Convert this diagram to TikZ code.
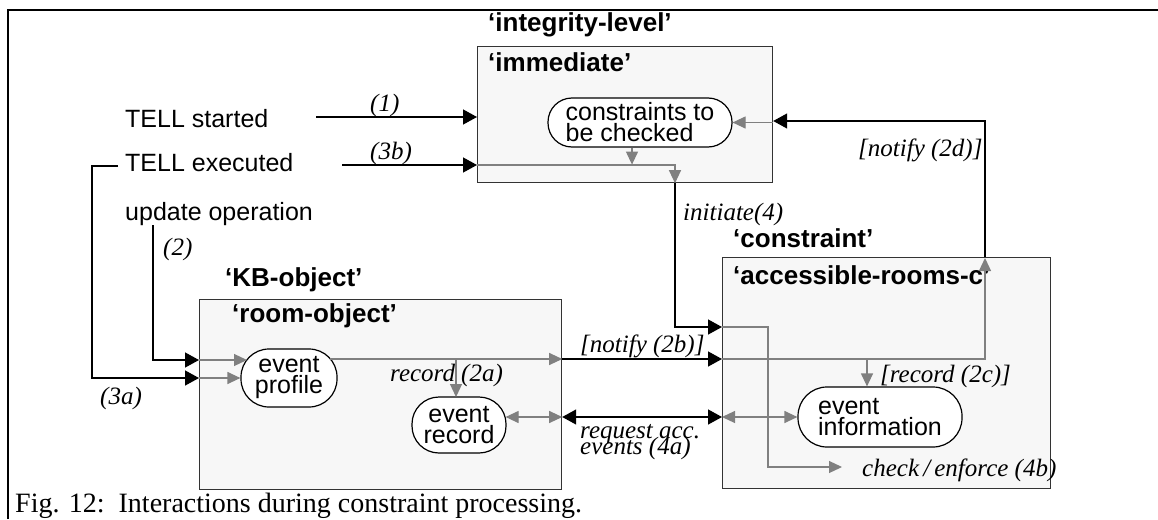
\documentclass[tikz,border=0pt]{standalone}
\usepackage{fontspec}
\setmainfont{Liberation Serif}
\setsansfont{Liberation Sans}
\usetikzlibrary{arrows.meta,calc}
\definecolor{boxfill}{HTML}{F7F7F7}
\definecolor{arrgray}{HTML}{808080}
\begin{document}
\begin{tikzpicture}[x=1pt,y=-1pt,
  lab/.style={font=\sffamily\fontsize{25}{25}\selectfont, inner sep=0, anchor=base west},
  blab/.style={font=\sffamily\bfseries\fontsize{26}{26}\selectfont, inner sep=0, anchor=base west},
  ilab/.style={font=\itshape\fontsize{25}{25}\selectfont, inner sep=0, anchor=base west},
  cbox/.style={draw=black!80, fill=boxfill, line width=1.2pt, inner sep=0, anchor=north west},
  st/.style={draw=black, fill=white, line width=1.2pt, inner sep=0, align=center, font=\sffamily\fontsize{25}{21}\selectfont},
  blk/.style={line width=1.4pt, draw=black, -{Triangle[length=14pt,width=15pt]}},
  blktwo/.style={line width=1.4pt, draw=black, {Triangle[length=14pt,width=15pt]}-{Triangle[length=14pt,width=15pt]}},
  gry/.style={line width=1.2pt, draw=arrgray, -{Triangle[length=13pt,width=12pt]}},
  grytwo/.style={line width=1.2pt, draw=arrgray, {Triangle[length=13pt,width=12pt]}-{Triangle[length=13pt,width=12pt]}},
]
\useasboundingbox (0,0) rectangle (1158,519);
% frame
\draw[line width=1.2pt] (8,519) -- (8,10) -- (1158,10);

% boxes
\node[cbox, minimum width=295, minimum height=136] (imm) at (477,46) {};
\node[cbox, minimum width=362, minimum height=190] (room) at (199,299) {};
\node[cbox, minimum width=328, minimum height=231] (acc) at (722,257) {};

% box labels
\node[blab] (lil) at (488,32) {‘integrity-level’};
\node[blab] (limm) at (488,71) {‘immediate’};
\node[blab] (lkb) at (225,286) {‘KB-object’};
\node[blab] (lro) at (232,322) {‘room-object’};
\node[blab] (lcon) at (733,247) {‘constraint’};
\node[blab] (lacc) at (733,284) {‘accessible-rooms-c’};

% states
\node[st, minimum width=184, minimum height=49, rounded corners=24pt, align=left] (cc) at (640,122.5) {constraints to\\be checked};
\node[st, minimum width=96, minimum height=58, rounded corners=28pt] (ep) at (289,378) {event\\profile};
\node[st, minimum width=94, minimum height=56, rounded corners=27pt] (er) at (459,425) {event\\record};
\node[st, minimum width=164, minimum height=60, rounded corners=29pt, align=left] (ei) at (880,417) {event\\information};

% left texts
\node[lab] (ts) at (125,127) {TELL started};
\node[lab] (te) at (125,171) {TELL executed};
\node[lab] (uo) at (125,220) {update operation};

% italic labels
\node[ilab] (l1) at (370,111) {(1)};
\node[ilab] (l3b) at (370,159) {(3b)};
\node[ilab] (l2) at (163,255) {(2)};
\node[ilab] (l3a) at (100,404) {(3a)};
\node[ilab] (l2a) at (390,381) {record (2a)};
\node[ilab] (l2b) at (580,352) {[notify (2b)]};
\node[ilab] (l4a) at (580,438) {request acc.};
\node[ilab] (l4a2) at (580,454) {events (4a)};
\node[ilab] (l4) at (683,220) {initiate(4)};
\node[ilab] (l2d) at (858,156) {[notify (2d)]};
\node[ilab] (l2c) at (880,382) {[record (2c)]};
\node[ilab] (l4b) at (862,476) {check\,/\,enforce (4b)};

% caption
\node[font=\fontsize{28}{28}\selectfont, anchor=base west, inner sep=0] (cap) at (15,512) {Fig. 12:\ \ Interactions during constraint processing.};

% coordinates for free ends / bends
\coordinate (s1) at (316,117);
\coordinate (s3b) at (342,165);
\coordinate (s3a) at (118,166);
\coordinate (b3a) at (92,166);
\coordinate (s2) at (153,225);
\coordinate (ce) at (842,467);

% gray connectors
\draw[gry] (imm.east |- cc.east) -- (cc.east);
\draw[gry] ($(cc.south)+(-8,0)$) -- ($(cc.south)+(-8,17)$);
\draw[gry] (imm.west |- 0,165) -| (imm.south -| 675,0);
\draw[gry] (room.west |- 0,360) -- ($(ep.center)+(-42,-18)$);
\draw[gry] (room.west |- 0,378) -- (ep.west);
\draw[gry] ($(ep.center)+(41,-19)$) -- (room.east |- 0,359);
\draw[gry] (456,359) -- (456,397);
\draw[grytwo] ($(er.east)+(-1,-8)$) -- (room.east |- 0,417);
\draw[grytwo] (acc.west |- ei.west) -- (ei.west);
\draw[gry] (acc.west |- 0,327) -| (768,467) -- (ce);
\draw[gry] (acc.west |- 0,359) -| (985,258);
\draw[gry] ($(ei.north)+(-13,-27)$) -- ($(ei.north)+(-13,0)$);

% black connectors
\draw[blk] (s1) -- (imm.west |- s1);
\draw[blk] (s3b) -- (imm.west |- s3b);
\draw[blk] (s3a) -- (b3a) |- (room.west |- 0,378);
\draw[blk] (s2) |- (room.west |- 0,360);
\draw[blk] (imm.south -| 675,0) |- (acc.west |- 0,327);
\draw[blk] (room.east |- 0,359) -- (acc.west |- 0,359);
\draw[blktwo] (room.east |- 0,417) -- (acc.west |- 0,417);
\draw[blk] (acc.north -| 985,0) |- (imm.east |- 0,121);
\end{tikzpicture}
\end{document}
